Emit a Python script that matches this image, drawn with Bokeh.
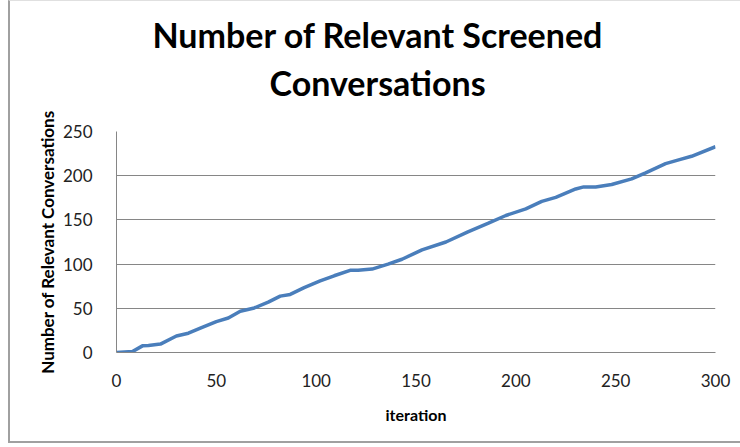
from bokeh.plotting import figure
from bokeh.models import Title, Range1d, FixedTicker
from bokeh.embed import file_html
from bokeh.resources import INLINE

iteration = [0, 8, 13, 16, 22, 30, 36, 42, 50, 56, 62, 69, 76, 82, 87, 94, 102, 109,
             117, 121, 128, 136, 143, 153, 165, 176, 186, 195, 205, 213, 220, 230,
             234, 240, 248, 258, 265, 275, 282, 288, 300]
relevant = [0, 1, 7.5, 8, 9.5, 18.7, 21.8, 27.5, 35, 39, 46.6, 50.4, 57, 63.8, 65.7,
            73.4, 81, 86.8, 93, 93, 94.4, 100, 105.5, 116, 125, 136.5, 146, 155,
            162.5, 171, 175.5, 185, 187.3, 187.3, 190, 196.4, 203.3, 213.6, 218.2,
            222, 232.8]
x_ticks = [0, 50, 100, 150, 200, 250, 300]
y_ticks = [0, 50, 100, 150, 200, 250]
title_lines = ["Number of Relevant Screened", "Conversations"]

W, H = 730, 440
p = figure(width=W, height=H, output_backend="svg", toolbar_location=None,
           x_range=Range1d(0, 300), y_range=Range1d(0, 250),
           min_border_left=106, min_border_right=27, min_border_top=130,
           min_border_bottom=92)
p.styles = {"margin-left": "8px", "border-left": "2px solid #a0a0a0",
            "border-bottom": "2px solid #a0a0a0", "border-top": "1px solid #e0e0e0",
            "border-right": "none", "outline": "none", "box-sizing": "content-box",
            "vertical-align": "top", "overflow": "hidden"}
p.outline_line_color = None
p.background_fill_color = "white"

p.line(iteration, relevant, line_color="#4a7ebb", line_width=3.5)

font = "Lato"
for ax in (p.xaxis[0], p.yaxis[0]):
    ax.axis_line_color = "#868686"
    ax.major_tick_line_color = None
    ax.minor_tick_line_color = None
    ax.major_label_text_font = font
    ax.major_label_text_font_size = "17px"
    ax.major_label_text_color = "#222222"
    ax.axis_label_text_font = font
    ax.axis_label_text_font_style = "bold"
    ax.axis_label_text_color = "black"

p.xaxis.ticker = FixedTicker(ticks=x_ticks)
p.yaxis.ticker = FixedTicker(ticks=y_ticks)
p.xaxis.axis_label = "iteration"
p.xaxis.axis_label_text_font_size = "16px"
p.xaxis.major_label_standoff = 15
p.xaxis.axis_label_standoff = 15
p.yaxis.axis_label = "Number of Relevant Conversations"
p.yaxis.axis_label_text_font_size = "17px"
p.yaxis.major_label_standoff = 18
p.yaxis.axis_label_standoff = 2

p.xgrid.grid_line_color = None
p.ygrid.grid_line_color = "#868686"
p.ygrid.grid_line_width = 1

# spacer between the plot area and the two title lines
p.add_layout(Title(text=" ", text_font_size="10px", standoff=11), "above")
p.add_layout(Title(text=title_lines[1], align="left", offset=153, standoff=10,
                   text_font=font, text_font_style="bold", text_font_size="34px",
                   text_color="black"), "above")
p.add_layout(Title(text=title_lines[0], align="left", offset=36, standoff=0,
                   text_font=font, text_font_style="bold", text_font_size="34px",
                   text_color="black"), "above")

open("out.html", "w").write(file_html(p, INLINE))
